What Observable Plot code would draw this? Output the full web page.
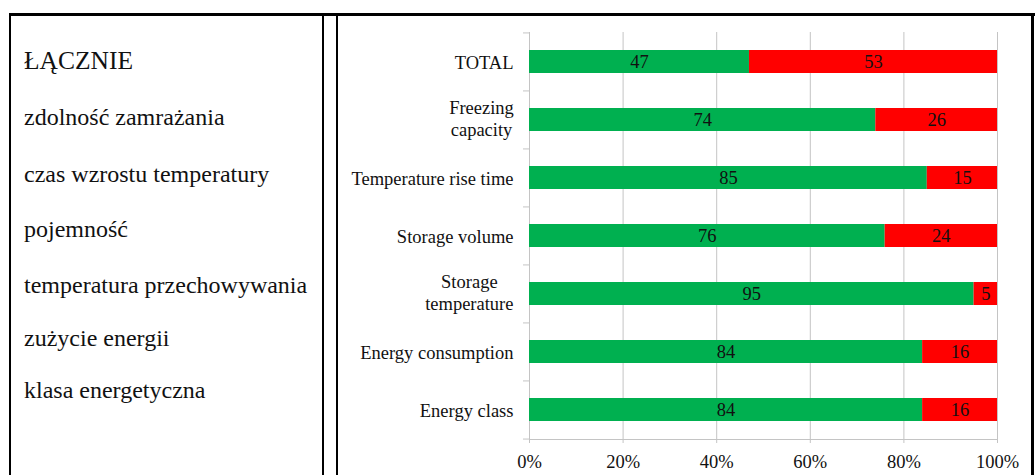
<!DOCTYPE html>
<html>
<head>
<meta charset="utf-8">
<script src="https://cdn.jsdelivr.net/npm/d3@7"></script>
<script src="https://cdn.jsdelivr.net/npm/@observablehq/plot@0.6"></script>
<style>
  html, body { margin: 0; padding: 0; background: #fff; }
  #wrap { position: relative; width: 1035px; height: 475px; overflow: hidden; background: #fff; }
  .line { position: absolute; background: #000; z-index: 5; }
  .pl { position: absolute; left: 24px; font-family: "Liberation Serif", "Times New Roman", serif; font-size: 24px; line-height: 1; color: #111; white-space: nowrap; }
  #chart { position: absolute; left: 340px; top: 0; }
</style>
</head>
<body>
<div id="wrap">
  <div class="line" style="left:9px;top:13px;width:1026px;height:3px"></div>
  <div class="line" style="left:9px;top:13px;width:2px;height:462px"></div>
  <div class="line" style="left:322px;top:13px;width:2px;height:462px"></div>
  <div class="line" style="left:336px;top:13px;width:2px;height:462px"></div>
  <div class="line" style="left:1031px;top:13px;width:3px;height:462px"></div>
  <div id="left"></div>
  <div id="chart"></div>
</div>
<script>
// ---- data ----
const categories = ["TOTAL", "Freezing\ncapacity", "Temperature rise time", "Storage volume", "Storage\ntemperature", "Energy consumption", "Energy class"];
const positive = [47, 74, 85, 76, 95, 84, 84];
const negative = [53, 26, 15, 24, 5, 16, 16];
const seriesNames = ["positive", "negative"];
const seriesColors = ["#00B050", "#FF0000"];
const xTicks = [0, 20, 40, 60, 80, 100];
const labelsPl = ["ŁĄCZNIE", "zdolność zamrażania", "czas wzrostu temperatury", "pojemność", "temperatura przechowywania", "zużycie energii", "klasa energetyczna"];

// ---- left column (Polish labels) ----
const plTops = [48, 105, 162, 217, 273, 326, 378];
const left = document.getElementById("left");
labelsPl.forEach((t, i) => {
  const d = document.createElement("div");
  d.className = "pl";
  d.textContent = t;
  d.style.top = plTops[i] + "px";
  if (i === 0) d.style.fontSize = "25.5px";
  left.appendChild(d);
});

// ---- chart ----
const data = categories.flatMap((c, i) => [
  {category: c, series: seriesNames[0], value: positive[i]},
  {category: c, series: seriesNames[1], value: negative[i]}
]);

const W = 690, H = 475, mt = 32, mb = 36;
const step = (H - mt - mb) / categories.length;
const grey = "#c4c4c4";

const chart = Plot.plot({
  width: W,
  height: H,
  marginLeft: 189,
  marginRight: 33,
  marginTop: mt,
  marginBottom: mb,
  style: {fontFamily: "'Liberation Serif', 'Times New Roman', serif", fontSize: "18.5px", background: "transparent", overflow: "visible", color: "#111"},
  x: {domain: [0, 100], label: null},
  y: {domain: categories, paddingInner: 0.6, paddingOuter: 0.3, label: null},
  color: {domain: seriesNames, range: seriesColors},
  marks: [
    Plot.gridX(xTicks, {stroke: grey, strokeOpacity: 1}),
    Plot.ruleX([0], {stroke: grey}),
    Plot.frame({anchor: "bottom", stroke: grey}),
    Plot.axisY({tickSize: 6, tickFormat: () => "", dy: -step / 2, stroke: grey}),
    Plot.axisY([categories[categories.length - 1]], {tickSize: 6, tickFormat: () => "", dy: step / 2, stroke: grey}),
    Plot.axisY({tickSize: 0, tickPadding: 16, fill: "#111", lineHeight: 1.2}),
    Plot.axisX(xTicks, {tickSize: 4, tickPadding: 11, tickFormat: d => d + "%", stroke: grey, fill: "#111"}),
    Plot.barX(data, Plot.stackX({y: "category", x: "value", fill: "series"})),
    Plot.textX(data, Plot.stackX({y: "category", x: "value", text: "value", fill: "#111"}))
  ]
});
document.getElementById("chart").appendChild(chart);

// centre the lines of multi-line category labels within their (right-aligned) block
chart.querySelectorAll("text").forEach(t => {
  const spans = t.querySelectorAll("tspan");
  if (spans.length > 1) {
    const bb = t.getBBox();
    const cx = bb.x + bb.width / 2;
    t.setAttribute("text-anchor", "middle");
    spans.forEach(s => s.setAttribute("x", cx));
    const tr = t.getAttribute("transform") || "";
    t.setAttribute("transform", tr + " translate(0,-2)");
  }
});
</script>
</body>
</html>
